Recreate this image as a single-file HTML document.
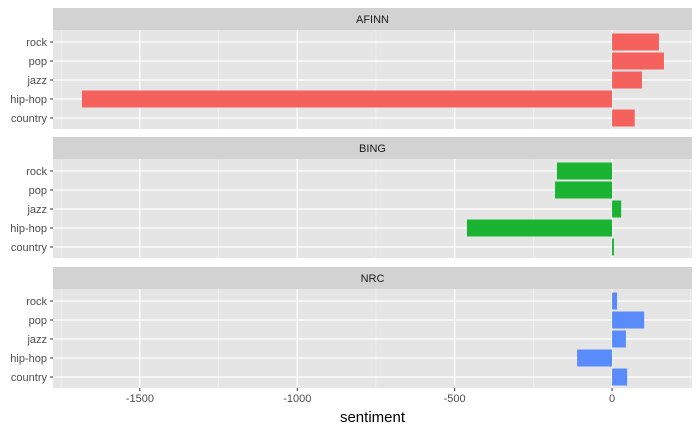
<!DOCTYPE html>
<html><head><meta charset="utf-8"><style>
body{margin:0;background:#fff;}
svg{display:block;font-family:"Liberation Sans",Arial,sans-serif;}
</style></head><body>
<svg id="c" width="700" height="432"></svg>
<script>
const facets=["AFINN","BING","NRC"];
const categories=["rock","pop","jazz","hip-hop","country"];
const afinnValues=[149,165,95,-1684,72];
const bingValues=[-175,-181,29,-461,6];
const nrcValues=[16,102,44,-111,48];
const xTicks=[-1500,-1000,-500,0];
const xTickLabels=["-1500","-1000","-500","0"];
const colors=["#F5625E","#1AB332","#5A8BFB"];
const series=[afinnValues,bingValues,nrcValues];
const NS="http://www.w3.org/2000/svg";
const svg=document.getElementById('c');
const L=53,R=692,xmin=-1776,xmax=254;
const x=v=>L+(v-xmin)/(xmax-xmin)*(R-L);
const panelTops=[30,159,289],ph=99;
function mk(t,a,p){const e=document.createElementNS(NS,t);for(const k in a)e.setAttribute(k,a[k]);(p||svg).appendChild(e);return e;}
const minor=[];for(let v=-1750;v<=250;v+=500)minor.push(v);
facets.forEach((f,fi)=>{
  const top=panelTops[fi];
  const g=mk('g',{});
  
  
  const strip=mk('rect',{x:L,y:top-22,width:R-L,height:22,fill:'#D2D2D2'},g);
  
  
  const st=mk('text',{x:(L+R)/2,y:top-7,'text-anchor':'middle','font-size':'11',fill:'#1A1A1A'},g);st.textContent=f;
  
  
  mk('rect',{x:L,y:top,width:R-L,height:ph,fill:'#E5E5E5'},g);
  minor.forEach(v=>mk('line',{x1:x(v),x2:x(v),y1:top,y2:top+ph,stroke:'#F2F2F2','stroke-width':0.6},g));
  xTicks.forEach(v=>mk('line',{x1:x(v),x2:x(v),y1:top,y2:top+ph,stroke:'#fff','stroke-width':1.2},g));
  categories.forEach((c,i)=>{
    const yc=top+12+i*19;
    mk('line',{x1:L,x2:R,y1:yc,y2:yc,stroke:'#fff','stroke-width':1.2},g);
    const v=series[fi][i];
    const b=mk('rect',{x:Math.min(x(0),x(v)),y:yc-8.5,width:Math.abs(x(v)-x(0)),height:17,fill:colors[fi]},g);
    
    
    const t=mk('text',{x:L-6,y:yc+4,'text-anchor':'end','font-size':'11',fill:'#4D4D4D'},g);t.textContent=c;
    
    
    mk('line',{x1:L-3,x2:L,y1:yc,y2:yc,stroke:'#333','stroke-width':1},g);
  });
});
xTicks.forEach((v,i)=>{
  mk('line',{x1:x(v),x2:x(v),y1:388,y2:391,stroke:'#333','stroke-width':1});
  const t=mk('text',{x:x(v),y:402,'text-anchor':'middle','font-size':'11',fill:'#4D4D4D'});t.textContent=xTickLabels[i];
  
  
});
const xt=mk('text',{x:(L+R)/2,y:422,'text-anchor':'middle','font-size':'15',fill:'#000'});xt.textContent='sentiment';


</script>
</body></html>
